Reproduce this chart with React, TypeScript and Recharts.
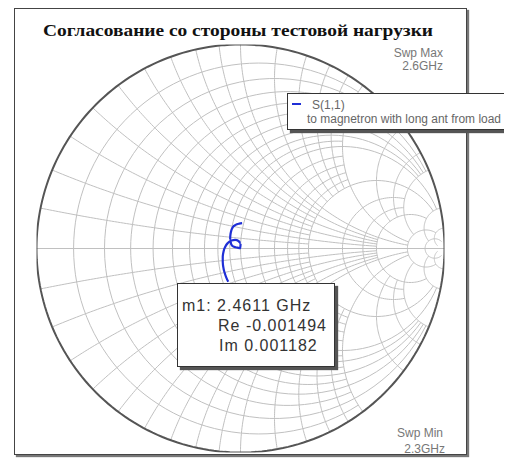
import { LineChart, Line, XAxis, YAxis } from 'recharts'

const TITLE = 'Согласование со стороны тестовой нагрузки'
const SERIES_NAME = 'S(1,1)'
const SERIES_DESC = 'to magnetron with long ant from load'
const SWP_MAX = ['Swp Max', '2.6GHz']
const SWP_MIN = ['Swp Min', '2.3GHz']
const MARKER_LINES = ['m1: 2.4611 GHz', 'Re -0.001494', 'Im 0.001182']

// S(1,1) trace as reflection coefficient (2.3 -> 2.6 GHz)
const S11_RE = [
  -0.06, -0.07, -0.078, -0.084, -0.087, -0.087, -0.083, -0.074, -0.061, -0.044, -0.026, -0.01,
  0.001, -0.0015, -0.015, -0.032, -0.045, -0.051, -0.05, -0.046, -0.038, -0.024, -0.006, 0.008,
]
const S11_IM = [
  -0.163, -0.142, -0.118, -0.093, -0.066, -0.04, -0.015, 0.01, 0.028, 0.039, 0.042, 0.037,
  0.026, 0.0012, 0.004, 0.008, 0.02, 0.04, 0.062, 0.085, 0.104, 0.116, 0.122, 0.124,
]

// Smith grid: constant-resistance circles and the reactance they are drawn out to
const R_VALUES = [0.1, 0.2, 0.3, 0.4, 0.5, 0.6, 0.7, 0.8, 0.9, 1, 1.2, 1.4, 1.6, 1.8, 2, 3, 4, 5, 10, 20]
const R_LIMITS = [2, 5, 2, 5, 2, 5, 2, 5, 2, 10, 2, 2, 2, 2, 10, 5, 5, 10, 20, 50]
// constant-reactance arcs and the resistance they are drawn out to
const X_VALUES = [0.1, 0.2, 0.3, 0.4, 0.5, 0.6, 0.7, 0.8, 0.9, 1, 1.2, 1.4, 1.6, 1.8, 2, 3, 4, 5, 10, 20]
const X_LIMITS = [2, 5, 2, 5, 2, 5, 2, 5, 2, 10, 2, 2, 2, 2, 10, 5, 5, 10, 20, 50]

type Pt = { x: number; y: number }

function gamma(r: number, x: number): Pt {
  const den = (r + 1) * (r + 1) + x * x
  return { x: (r * r + x * x - 1) / den, y: (2 * x) / den }
}

const N = 90

function rCircle(r: number, xmax: number): Pt[] {
  const a = r + 1
  const umax = Math.atan(xmax / a)
  const pts: Pt[] = []
  for (let i = 0; i <= N; i++) {
    const u = -umax + (2 * umax * i) / N
    pts.push(gamma(r, a * Math.tan(u)))
  }
  return pts
}

function xArc(x: number, rmax: number): Pt[] {
  const ax = Math.abs(x)
  const u0 = Math.atan(1 / ax)
  const u1 = Math.atan((rmax + 1) / ax)
  const pts: Pt[] = []
  for (let i = 0; i <= N; i++) {
    const u = u0 + ((u1 - u0) * i) / N
    pts.push(gamma(ax * Math.tan(u) - 1, x))
  }
  return pts
}

const outer: Pt[] = Array.from({ length: 241 }, (_, i) => ({
  x: Math.cos((i / 240) * 2 * Math.PI),
  y: Math.sin((i / 240) * 2 * Math.PI),
}))
const realAxis: Pt[] = [{ x: -1, y: 0 }, { x: 1, y: 0 }]

const gridLines: Pt[][] = [
  ...R_VALUES.map((r, i) => rCircle(r, R_LIMITS[i])),
  ...X_VALUES.map((x, i) => xArc(x, X_LIMITS[i])),
  ...X_VALUES.map((x, i) => xArc(-x, X_LIMITS[i])),
  realAxis,
]

const s11: Pt[] = S11_RE.map((re, i) => ({ x: re, y: S11_IM[i] }))

const GRID = '#c0c0c0'

export default function App() {
  return (
    <div style={{ position: 'relative', width: 504, height: 456, overflow: 'hidden', fontFamily: 'Liberation Sans, Arial, sans-serif' }}>
      <div style={{ position: 'absolute', left: 6, top: 0, width: 453, height: 447, boxSizing: 'border-box', border: '1px solid #444', boxShadow: '2px 2px 1px #777', background: '#fff' }} />
      <div style={{ position: 'absolute', left: 0, top: 0 }}>
        <LineChart width={504} height={456} margin={{ top: 36.5, right: 67.5, bottom: 11.5, left: 28.5 }}>
          <XAxis type="number" dataKey="x" domain={[-1, 1]} allowDataOverflow hide />
          <YAxis type="number" dataKey="y" domain={[-1, 1]} allowDataOverflow hide />
          {gridLines.map((pts, i) => (
            <Line key={i} data={pts} dataKey="y" type="linear" stroke={GRID} strokeWidth={1} dot={false} activeDot={false} isAnimationActive={false} />
          ))}
          <Line data={outer} dataKey="y" type="linear" stroke="#555" strokeWidth={2} dot={false} activeDot={false} isAnimationActive={false} />
          <Line data={s11} dataKey="y" name={SERIES_NAME} type="monotone" stroke="#1f2fd6" strokeWidth={2.2} dot={false} activeDot={false} isAnimationActive={false} />
        </LineChart>
      </div>
      <svg width={504} height={456} style={{ position: 'absolute', left: 0, top: 0, pointerEvents: 'none' }}>
        <text x={35} y={27.5} textLength={390} lengthAdjust="spacingAndGlyphs" fontFamily="Liberation Serif, Times New Roman, serif" fontWeight="bold" fontSize={17} fill="#111">
          {TITLE}
        </text>
        <g fontSize={12} fill="#777" textAnchor="end">
          <text x={435} y={48.5}>{SWP_MAX[0]}</text>
          <text x={435} y={61.5}>{SWP_MAX[1]}</text>
          <text x={435} y={428.5}>{SWP_MIN[0]}</text>
          <text x={437} y={444.5}>{SWP_MIN[1]}</text>
        </g>
      </svg>
      <div style={{ position: 'absolute', left: 169, top: 275, width: 158, height: 84, boxSizing: 'border-box', background: '#fff', border: '1px solid #333', boxShadow: '3px 3px 1px #555' }}>
        <svg width={156} height={82} style={{ display: 'block' }}>
          <g fontSize={16} fill="#333" letterSpacing={1}>
            <text x={4} y={27}>{MARKER_LINES[0]}</text>
            <text x={40} y={46.5}>{MARKER_LINES[1]}</text>
            <text x={41} y={66.5}>{MARKER_LINES[2]}</text>
          </g>
        </svg>
      </div>
      <div style={{ position: 'absolute', left: 279, top: 85, width: 218, height: 37, boxSizing: 'border-box', background: '#fff', border: '1px solid #333', boxShadow: '3px 3px 1px #555', overflow: 'hidden' }}>
        <svg width={216} height={35} style={{ display: 'block' }}>
          <line x1={4} x2={13} y1={10} y2={10} stroke="#1f2fd6" strokeWidth={2} />
          <g fontSize={12} fill="#666">
            <text x={24} y={14.5}>{SERIES_NAME}</text>
            <text x={19} y={29} textLength={194} lengthAdjust="spacingAndGlyphs">{SERIES_DESC}</text>
          </g>
        </svg>
      </div>
    </div>
  )
}
